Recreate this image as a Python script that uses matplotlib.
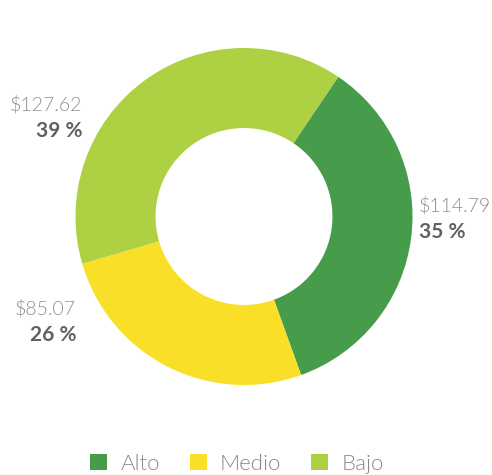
import matplotlib.pyplot as plt

plt.rcParams["font.family"] = ["Lato", "DejaVu Sans"]

categories = ["Alto", "Medio", "Bajo"]
values = [114.79, 85.07, 127.62]
colors = ["#479c4c", "#f9df27", "#add143"]

# label anchor (pixel, from top-left) and alignment for each slice
label_pos = [(419, 205, "left"), (76, 308, "right"), (82, 104, "right")]

W, H = 492, 475
fig = plt.figure(figsize=(W / 100, H / 100), dpi=100)

cx, cy, r = 244, 216.5, 168.5
ax = fig.add_axes([(cx - r) / W, (H - cy - r) / H, 2 * r / W, 2 * r / H])
wedges, _ = ax.pie(
    values,
    colors=colors,
    startangle=56,
    counterclock=False,
    radius=1,
    wedgeprops=dict(width=0.475, linewidth=0),
)
ax.set_xlim(-1, 1)
ax.set_ylim(-1, 1)
ax.set_aspect("equal")
ax.axis("off")

total = sum(values)
for v, (px, py, ha) in zip(values, label_pos):
    fig.text(px / W, 1 - py / H, f"${v:.2f}", ha=ha, va="center",
             fontsize=14, color="#8f8f8f", fontweight=300)
    fig.text(px / W, 1 - (py + 27) / H, f"{v / total * 100:.0f} %", ha=ha,
             va="center", fontsize=15, color="#616161", fontweight="bold")

fig.legend(wedges, categories, loc="center",
           bbox_to_anchor=(237 / W, 1 - 464 / H),
           ncol=3, frameon=False, handlelength=0.75,
           handleheight=0.75, handletextpad=0.6, columnspacing=1.35,
           labelcolor="#888888", prop=dict(weight=300, size=16))

fig.savefig("out.png", dpi=100)
